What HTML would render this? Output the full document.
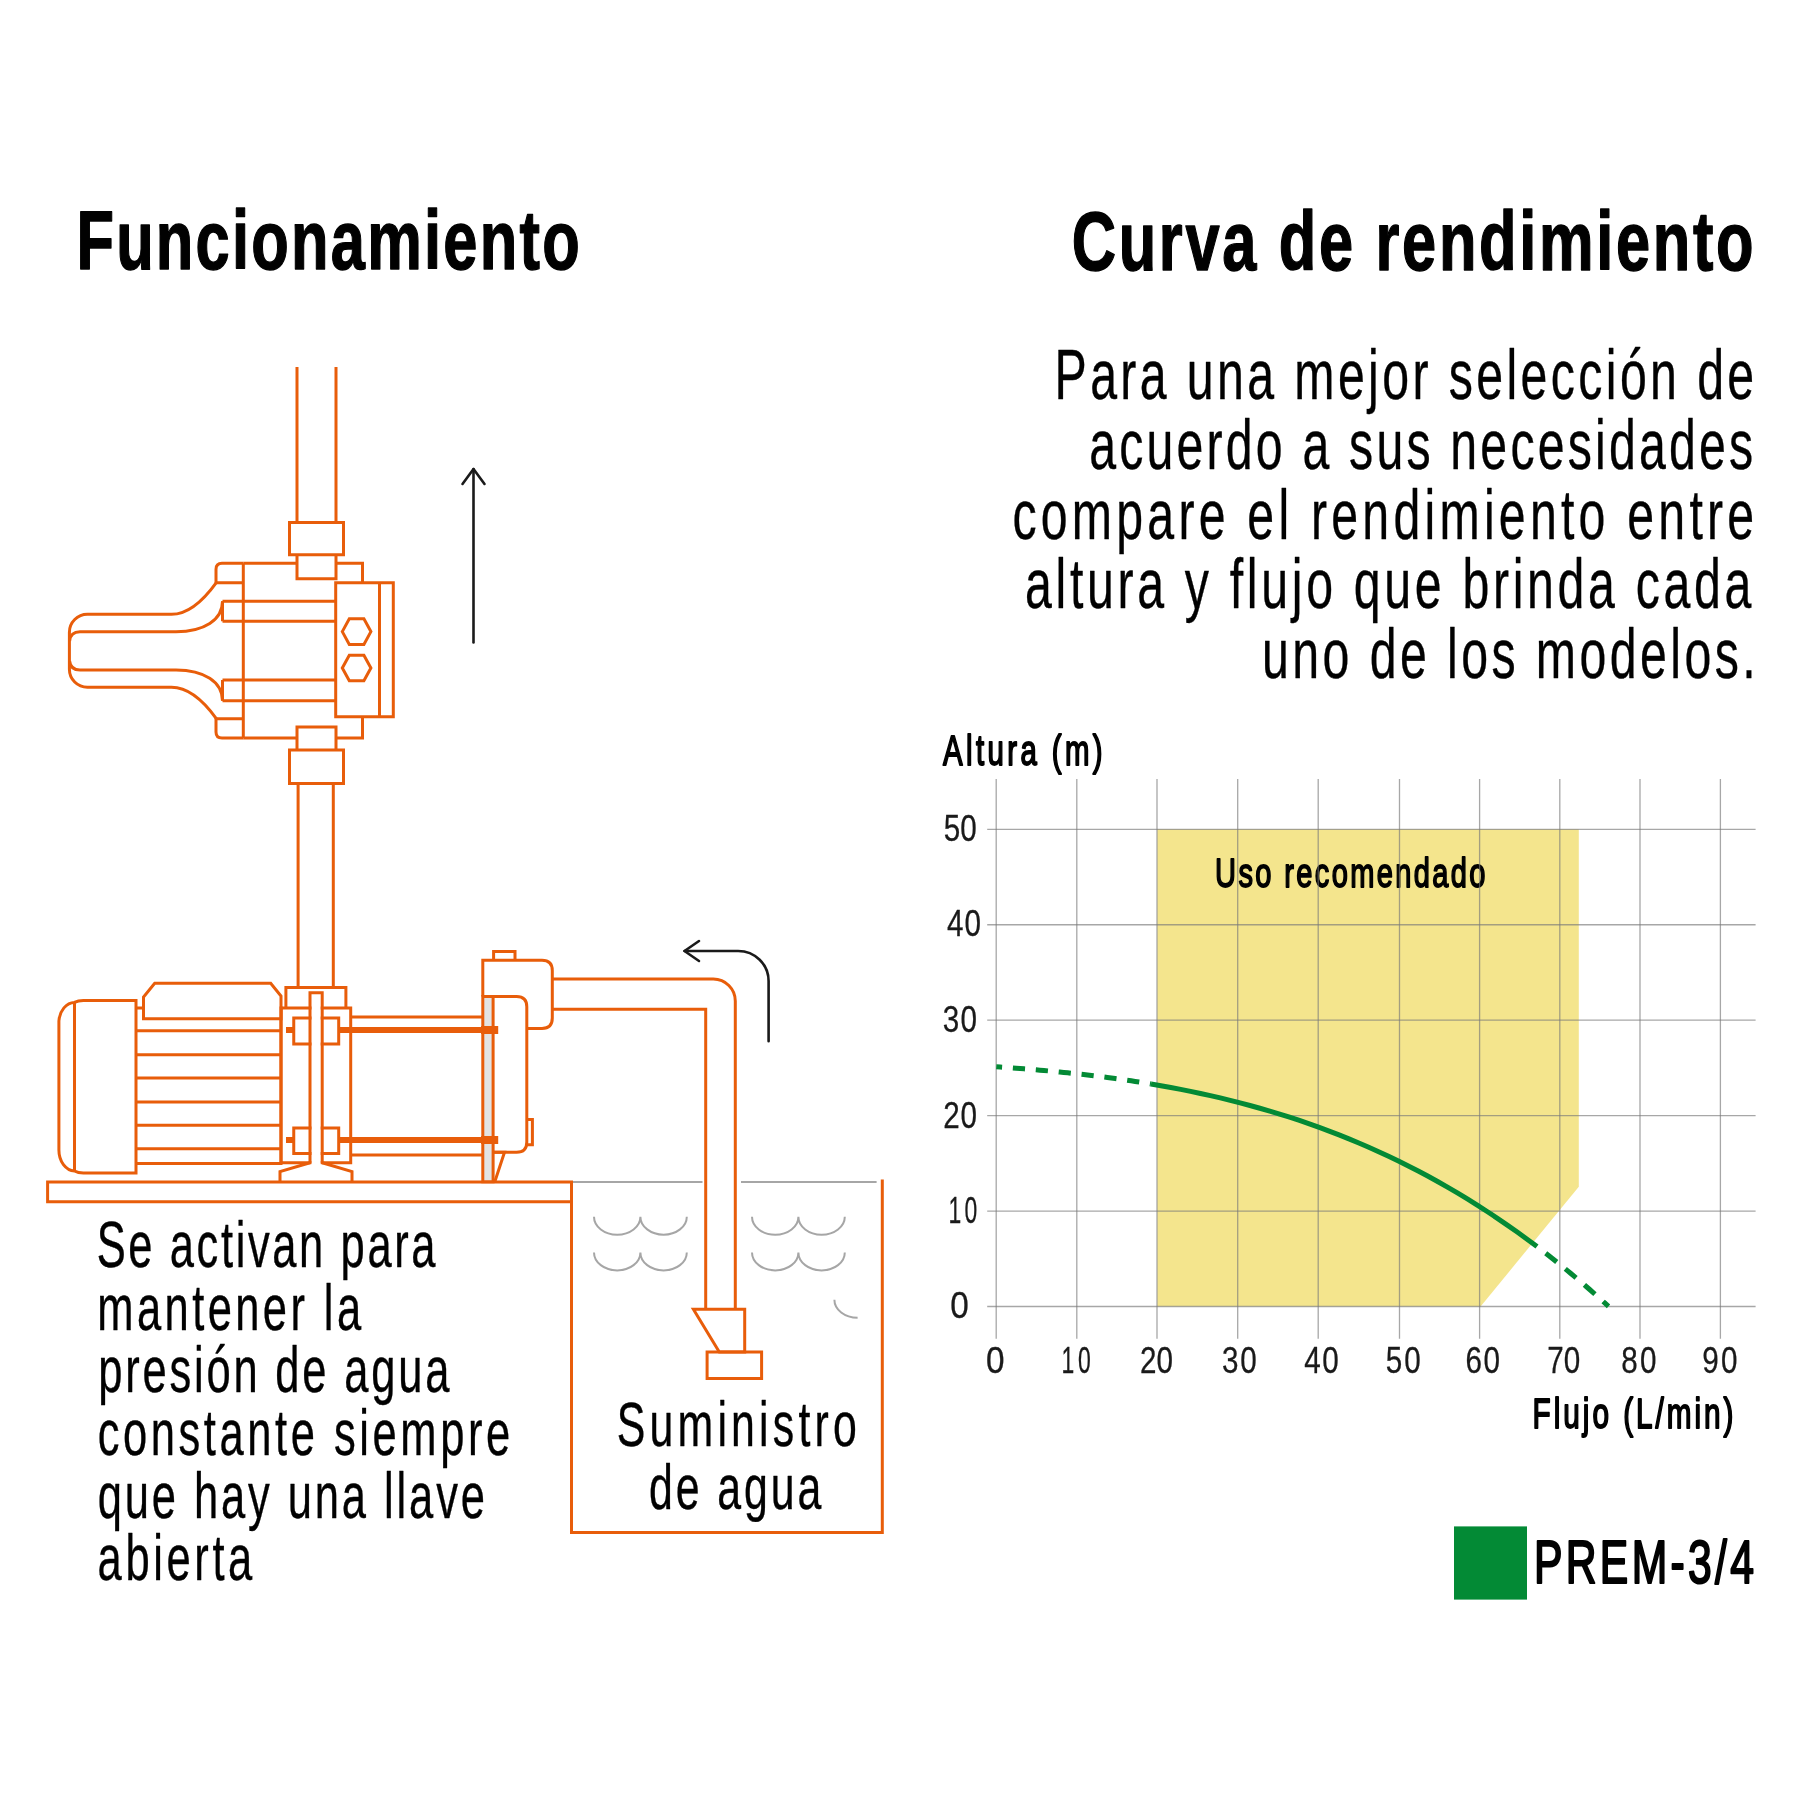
<!DOCTYPE html>
<html><head><meta charset="utf-8"><style>
html,body{margin:0;padding:0;background:#fff;}
svg{display:block;}
text{font-family:"Liberation Sans",sans-serif;}
</style></head><body>
<svg width="1800" height="1800" viewBox="0 0 1800 1800">
<rect width="1800" height="1800" fill="#fff"/>
<path d="M1157.22,829.3H1578.8V1186.7L1480.6,1306.5H1157.22Z" fill="#F4E58D"/>
<g fill="none" stroke="#A6A6A6" stroke-width="2"><path d="M573,1182H702.5M741,1182H876.6"/><path d="M594,1216.7A23.2,18 0 0 0 640.4,1216.7A23.2,18 0 0 0 686.8,1216.7"/><path d="M752,1216.7A23.2,18 0 0 0 798.4,1216.7A23.2,18 0 0 0 844.8,1216.7"/><path d="M594,1252.4A23.2,18 0 0 0 640.4,1252.4A23.2,18 0 0 0 686.8,1252.4"/><path d="M752,1252.4A23.2,18 0 0 0 798.4,1252.4A23.2,18 0 0 0 844.8,1252.4"/><path d="M834.4,1299.8A23.2,18 0 0 0 857.6,1317.8"/></g>
<g fill="none" stroke="#E85D0A" stroke-width="3" stroke-linejoin="miter"><path d="M297,367V522.6M336,367V522.6" /><path d="M289.5,522.6H343.5V554.7H289.5Z" /><path d="M297,554.7V578.7H336V554.7" /><path d="M243.3,563.3H297M336,563.3H362.5V582.8" /><path d="M335.7,582.8H393.3V716.8H335.7Z" /><path d="M379.5,582.8V716.8" /><path d="M342.3,631.6L349.3,618.8000000000001H363.90000000000003L370.90000000000003,631.6L363.90000000000003,644.4H349.3Z" /><path d="M342.3,668L349.3,655.2H363.90000000000003L370.90000000000003,668L363.90000000000003,680.8H349.3Z" /><path d="M243.3,563.3V738" /><path d="M243.3,738H297M336,738H362.5V716.8" /><path d="M222.5,601.3H335.7M222.5,621.3H335.7M222.5,680H335.7M222.5,700.8H335.7" /><path d="M222.5,601.3V621.3M222.5,680V700.8" /><path d="M243.3,563.3H222Q216,563.3 216,569.3V582.8H243.3" /><path d="M243.3,738H222Q216,738 216,732V718.8H243.3" /><path d="M216.5,582.3C203,601 187,614.3 171.5,614.3H87.5A18,18 0 0 0 69.4,632.3V669.2A18,18 0 0 0 87.5,687.2H171.5C187,687.2 203,700 216.5,718.8" /><path d="M222.5,601.3C222.5,620 204,631.75 176,631.75H80Q70.5,631.75 69.6,641" /><path d="M222.5,700.8C222.5,682 204,670 176,670H80Q70.5,670 69.6,661" /><path d="M297,738V727H336V738M297,738V750M336,738V750" /><path d="M289.5,750H343.5V783.5H289.5Z" /><path d="M298.1,783.5V987.5M333.3,783.5V987.5" /><path d="M136,1000.4H83.4Q78,1000.4 74.5,1002.4A16,20.5 0 0 0 58.9,1021V1150A16,21 0 0 0 74.5,1171Q78,1173 83.4,1173H136Z" /><path d="M74.5,1002.4V1171" /><path d="M136,1008H281V1163.5H136" /><path d="M136,1030.7H281" /><path d="M136,1054.7H281" /><path d="M136,1078.1H281" /><path d="M136,1101.9H281" /><path d="M136,1125.3H281" /><path d="M136,1148.8H281" /><path d="M143.5,1018.7V997L154.7,983.2H270.7L281,996V1018.7Z" fill="#fff"/><path d="M281,1008H350.7V1162.7H281Z" /><path d="M285.9,1008V987.5H345.9V1008" /><path d="M293.75,1017.9H338.7V1043.9H293.75Z" /><path d="M293.75,1128H338.7V1153.5H293.75Z" /><path d="M350.7,1017H482.8M350.7,1155H482.8" /><path d="M338.7,1030H482M338.7,1140H482" stroke-width="6"/><path d="M286,1030H293.75M286,1140H293.75" stroke-width="6"/><path d="M311.5,994.2H320.7V1164.5L350.5,1173V1180.5H281.5V1173L311.5,1164.5Z" fill="#fff" stroke="none"/><path d="M310,1162.7V992.7H322.2V1162.7" /><path d="M310,1162.7L280,1171.5V1182M322.2,1162.7L352,1171.5V1182" /><path d="M47.6,1182H571.5V1201.7H47.6Z" /><path d="M482.8,996.4H493.1V1181.7H482.8Z" fill="#E3E3E3"/><path d="M481,1030H498.2M481,1140H498.2" stroke-width="8"/><path d="M482.8,996.4V960.2H542Q552.3,960.2 552.3,970.5V1018Q552.3,1028.4 542,1028.4H526.8" /><path d="M482.8,996.4H516.6Q526.8,996.4 526.8,1006.7V1142Q526.8,1152.3 516.6,1152.3H493.1" /><path d="M493.6,960.2V951.6H515V960.2" /><path d="M526.8,1119.6H532.4V1144.7H526.8" /><path d="M493.1,1152.3H504.5L494.8,1181.7" /><path d="M552.3,979H713.3A22,22 0 0 1 735.3,1001V1309.3" /><path d="M552.3,1009.2H705.7V1309.3" /><path d="M693.4,1309.3H744.7V1352H719.3Z" /><path d="M707.1,1352H761.6V1378.5H707.1Z" /><path d="M571.5,1201.7V1532.4H882.3V1179.5" /></g>
<g fill="none" stroke="#1A1A1A" stroke-width="2.6" stroke-linecap="round" stroke-linejoin="round"><path d="M473.5,642.5V469"/><path d="M462.5,484L473.5,469L484.5,484"/><path d="M768.6,1041.2V981A30.5,30 0 0 0 738.1,951H684.5"/><path d="M699,941L684.5,951L699,961"/></g>
<g font-family="Liberation Sans, sans-serif" fill="#000" opacity="0.999"><text transform="scale(0.74,1)" x="103.23" y="268.6" font-size="83" font-weight="bold" text-anchor="start" textLength="680.09" lengthAdjust="spacing" stroke="#000" stroke-width="1.4" stroke-linejoin="round">Funcionamiento</text><text transform="scale(0.74,1)" x="2369.77" y="270.4" font-size="83" font-weight="bold" text-anchor="end" textLength="921.54" lengthAdjust="spacing" stroke="#000" stroke-width="1.4" stroke-linejoin="round">Curva de rendimiento</text><text transform="scale(0.68,1)" x="2579.71" y="399.3" font-size="71" font-weight="normal" text-anchor="end" textLength="1028.87" lengthAdjust="spacing" stroke="#000" stroke-width="0.4" stroke-linejoin="round">Para una mejor selección de</text><text transform="scale(0.68,1)" x="2578.24" y="469" font-size="71" font-weight="normal" text-anchor="end" textLength="976.47" lengthAdjust="spacing" stroke="#000" stroke-width="0.4" stroke-linejoin="round">acuerdo a sus necesidades</text><text transform="scale(0.68,1)" x="2579.71" y="538.6" font-size="71" font-weight="normal" text-anchor="end" textLength="1090.88" lengthAdjust="spacing" stroke="#000" stroke-width="0.4" stroke-linejoin="round">compare el rendimiento entre</text><text transform="scale(0.68,1)" x="2575.59" y="608.5" font-size="71" font-weight="normal" text-anchor="end" textLength="1068.24" lengthAdjust="spacing" stroke="#000" stroke-width="0.4" stroke-linejoin="round">altura y flujo que brinda cada</text><text transform="scale(0.68,1)" x="2581.81" y="678.5" font-size="71" font-weight="normal" text-anchor="end" textLength="725.93" lengthAdjust="spacing" stroke="#000" stroke-width="0.4" stroke-linejoin="round">uno de los modelos.</text><text transform="scale(0.68,1)" x="142.16" y="1267.3" font-size="64" font-weight="normal" text-anchor="start" textLength="498.32" lengthAdjust="spacing" stroke="#000" stroke-width="0.4" stroke-linejoin="round">Se activan para</text><text transform="scale(0.68,1)" x="143.13" y="1329.9" font-size="64" font-weight="normal" text-anchor="start" textLength="387.90" lengthAdjust="spacing" stroke="#000" stroke-width="0.4" stroke-linejoin="round">mantener la</text><text transform="scale(0.68,1)" x="144.41" y="1392.5" font-size="64" font-weight="normal" text-anchor="start" textLength="516.40" lengthAdjust="spacing" stroke="#000" stroke-width="0.4" stroke-linejoin="round">presión de agua</text><text transform="scale(0.68,1)" x="143.69" y="1455.1" font-size="64" font-weight="normal" text-anchor="start" textLength="606.54" lengthAdjust="spacing" stroke="#000" stroke-width="0.4" stroke-linejoin="round">constante siempre</text><text transform="scale(0.68,1)" x="143.65" y="1517.7" font-size="64" font-weight="normal" text-anchor="start" textLength="569.59" lengthAdjust="spacing" stroke="#000" stroke-width="0.4" stroke-linejoin="round">que hay una llave</text><text transform="scale(0.68,1)" x="143.56" y="1580.3" font-size="64" font-weight="normal" text-anchor="start" textLength="227.46" lengthAdjust="spacing" stroke="#000" stroke-width="0.4" stroke-linejoin="round">abierta</text><text transform="scale(0.68,1)" x="1083.51" y="1446.4" font-size="63" font-weight="normal" text-anchor="middle" textLength="352.81" lengthAdjust="spacing" stroke="#000" stroke-width="0.4" stroke-linejoin="round">Suministro</text><text transform="scale(0.68,1)" x="1081.26" y="1508.7" font-size="63" font-weight="normal" text-anchor="middle" textLength="253.37" lengthAdjust="spacing" stroke="#000" stroke-width="0.4" stroke-linejoin="round">de agua</text><text transform="scale(0.7,1)" x="1347.14" y="765" font-size="42" font-weight="normal" text-anchor="start" textLength="227.94" lengthAdjust="spacing" stroke="#000" stroke-width="1.9" stroke-linejoin="round">Altura (m)</text><text transform="scale(0.7,1)" x="1735.89" y="886.8" font-size="41.5" font-weight="normal" text-anchor="start" textLength="386.23" lengthAdjust="spacing" stroke="#000" stroke-width="1.8" stroke-linejoin="round">Uso recomendado</text><text transform="scale(0.7,1)" x="2189.44" y="1427.8" font-size="42.5" font-weight="normal" text-anchor="start" textLength="286.97" lengthAdjust="spacing" stroke="#000" stroke-width="1.9" stroke-linejoin="round">Flujo (L/min)</text><text transform="scale(0.7,1)" x="2191.37" y="1582.6" font-size="61" font-weight="normal" text-anchor="start" textLength="314.36" lengthAdjust="spacing" stroke="#000" stroke-width="2.2" stroke-linejoin="round">PREM-3/4</text><text transform="scale(0.9,1)" x="1066.03" y="1318.3" font-size="37" font-weight="normal" text-anchor="middle" textLength="25.48" lengthAdjust="spacing" stroke="#1A1A1A" stroke-width="0.3" stroke-linejoin="round" fill="#1A1A1A">0</text><text transform="scale(0.62,1)" x="1553.02" y="1222.9" font-size="37" font-weight="normal" text-anchor="middle" textLength="46.35" lengthAdjust="spacing" stroke="#1A1A1A" stroke-width="0.3" stroke-linejoin="round" fill="#1A1A1A">10</text><text transform="scale(0.8,1)" x="1200.15" y="1127.6" font-size="37" font-weight="normal" text-anchor="middle" textLength="42.09" lengthAdjust="spacing" stroke="#1A1A1A" stroke-width="0.3" stroke-linejoin="round" fill="#1A1A1A">20</text><text transform="scale(0.8,1)" x="1199.95" y="1031.8" font-size="37" font-weight="normal" text-anchor="middle" textLength="42.71" lengthAdjust="spacing" stroke="#1A1A1A" stroke-width="0.3" stroke-linejoin="round" fill="#1A1A1A">30</text><text transform="scale(0.8,1)" x="1205.01" y="936.4" font-size="37" font-weight="normal" text-anchor="middle" textLength="42.72" lengthAdjust="spacing" stroke="#1A1A1A" stroke-width="0.3" stroke-linejoin="round" fill="#1A1A1A">40</text><text transform="scale(0.8,1)" x="1200.37" y="841.1" font-size="37" font-weight="normal" text-anchor="middle" textLength="41.26" lengthAdjust="spacing" stroke="#1A1A1A" stroke-width="0.3" stroke-linejoin="round" fill="#1A1A1A">50</text><text transform="scale(0.9,1)" x="1105.89" y="1372.6" font-size="37" font-weight="normal" text-anchor="middle" textLength="25.38" lengthAdjust="spacing" stroke="#1A1A1A" stroke-width="0.3" stroke-linejoin="round" fill="#1A1A1A">0</text><text transform="scale(0.62,1)" x="1735.63" y="1372.6" font-size="37" font-weight="normal" text-anchor="middle" textLength="47.13" lengthAdjust="spacing" stroke="#1A1A1A" stroke-width="0.3" stroke-linejoin="round" fill="#1A1A1A">10</text><text transform="scale(0.8,1)" x="1445.58" y="1372.6" font-size="37" font-weight="normal" text-anchor="middle" textLength="41.29" lengthAdjust="spacing" stroke="#1A1A1A" stroke-width="0.3" stroke-linejoin="round" fill="#1A1A1A">20</text><text transform="scale(0.8,1)" x="1549.28" y="1372.6" font-size="37" font-weight="normal" text-anchor="middle" textLength="43.48" lengthAdjust="spacing" stroke="#1A1A1A" stroke-width="0.3" stroke-linejoin="round" fill="#1A1A1A">30</text><text transform="scale(0.8,1)" x="1651.86" y="1372.6" font-size="37" font-weight="normal" text-anchor="middle" textLength="42.89" lengthAdjust="spacing" stroke="#1A1A1A" stroke-width="0.3" stroke-linejoin="round" fill="#1A1A1A">40</text><text transform="scale(0.8,1)" x="1754.00" y="1372.6" font-size="37" font-weight="normal" text-anchor="middle" textLength="43.65" lengthAdjust="spacing" stroke="#1A1A1A" stroke-width="0.3" stroke-linejoin="round" fill="#1A1A1A">50</text><text transform="scale(0.8,1)" x="1853.52" y="1372.6" font-size="37" font-weight="normal" text-anchor="middle" textLength="43.06" lengthAdjust="spacing" stroke="#1A1A1A" stroke-width="0.3" stroke-linejoin="round" fill="#1A1A1A">60</text><text transform="scale(0.8,1)" x="1954.74" y="1372.6" font-size="37" font-weight="normal" text-anchor="middle" textLength="41.16" lengthAdjust="spacing" stroke="#1A1A1A" stroke-width="0.3" stroke-linejoin="round" fill="#1A1A1A">70</text><text transform="scale(0.8,1)" x="2048.46" y="1372.6" font-size="37" font-weight="normal" text-anchor="middle" textLength="44.04" lengthAdjust="spacing" stroke="#1A1A1A" stroke-width="0.3" stroke-linejoin="round" fill="#1A1A1A">80</text><text transform="scale(0.8,1)" x="2149.81" y="1372.6" font-size="37" font-weight="normal" text-anchor="middle" textLength="43.92" lengthAdjust="spacing" stroke="#1A1A1A" stroke-width="0.3" stroke-linejoin="round" fill="#1A1A1A">90</text></g>
<path d="M996.20,779V1338.7M1076.80,779V1338.7M1157.00,779V1338.7M1237.70,779V1338.7M1318.20,779V1338.7M1399.50,779V1338.7M1479.60,779V1338.7M1559.80,779V1338.7M1640.00,779V1338.7M1720.40,779V1338.7" stroke="#797979" stroke-opacity="0.66" stroke-width="1.3" fill="none"/><path d="M987.2,1306.50H1755.6M987.2,1211.06H1755.6M987.2,1115.62H1755.6M987.2,1020.18H1755.6M987.2,924.74H1755.6M987.2,829.30H1755.6" stroke="#797979" stroke-opacity="0.66" stroke-width="1.3" fill="none"/>
<path d="M996.30,1066.75 L1000.27,1067.03 L1004.23,1067.31 L1008.20,1067.59 L1012.17,1067.89 L1016.13,1068.19 L1020.10,1068.50 L1024.07,1068.81 L1028.03,1069.13 L1032.00,1069.46 L1035.97,1069.80 L1039.93,1070.15 L1043.90,1070.50 L1047.87,1070.87 L1051.83,1071.24 L1055.80,1071.62 L1059.77,1072.01 L1063.73,1072.41 L1067.70,1072.82 L1071.67,1073.24 L1075.63,1073.67 L1079.60,1074.10 L1083.57,1074.55 L1087.53,1075.01 L1091.50,1075.48 L1095.47,1075.97 L1099.43,1076.46 L1103.40,1076.96 L1107.37,1077.48 L1111.33,1078.01 L1115.30,1078.55 L1119.27,1079.10 L1123.23,1079.66 L1127.20,1080.24 L1131.17,1080.83 L1135.13,1081.43 L1139.10,1082.05 L1143.07,1082.68 L1147.03,1083.32 L1151.00,1083.98" stroke="#038A35" stroke-width="5" fill="none" stroke-dasharray="12.2 10.8" stroke-dashoffset="6.4"/><path d="M1151.00,1083.98 L1160.90,1085.68 L1170.79,1087.48 L1180.69,1089.36 L1190.59,1091.35 L1200.49,1093.43 L1210.38,1095.62 L1220.28,1097.91 L1230.18,1100.32 L1240.08,1102.83 L1249.97,1105.46 L1259.87,1108.22 L1269.77,1111.09 L1279.67,1114.09 L1289.56,1117.22 L1299.46,1120.48 L1309.36,1123.88 L1319.26,1127.41 L1329.15,1131.09 L1339.05,1134.91 L1348.95,1138.88 L1358.85,1143.00 L1368.74,1147.27 L1378.64,1151.70 L1388.54,1156.29 L1398.44,1161.05 L1408.33,1165.97 L1418.23,1171.06 L1428.13,1176.33 L1438.03,1181.77 L1447.92,1187.39 L1457.82,1193.20 L1467.72,1199.19 L1477.62,1205.37 L1487.51,1211.74 L1497.41,1218.31 L1507.31,1225.07 L1517.21,1232.04 L1527.10,1239.21 L1537.00,1246.59" stroke="#038A35" stroke-width="5" fill="none"/><path d="M1537.00,1246.59 L1540.76,1249.45 L1544.53,1252.35 L1548.29,1255.27 L1552.05,1258.22 L1555.82,1261.21 L1559.58,1264.23 L1563.34,1267.27 L1567.11,1270.35 L1570.87,1273.47 L1574.63,1276.61 L1578.39,1279.79 L1582.16,1283.00 L1585.92,1286.24 L1589.68,1289.51 L1593.45,1292.82 L1597.21,1296.16 L1600.97,1299.53 L1604.74,1302.94 L1608.50,1306.38" stroke="#038A35" stroke-width="5" fill="none" stroke-dasharray="14 11" stroke-dashoffset="-11"/><rect x="1454" y="1526.4" width="73" height="73.2" fill="#038A35"/>
</svg>
</body></html>
